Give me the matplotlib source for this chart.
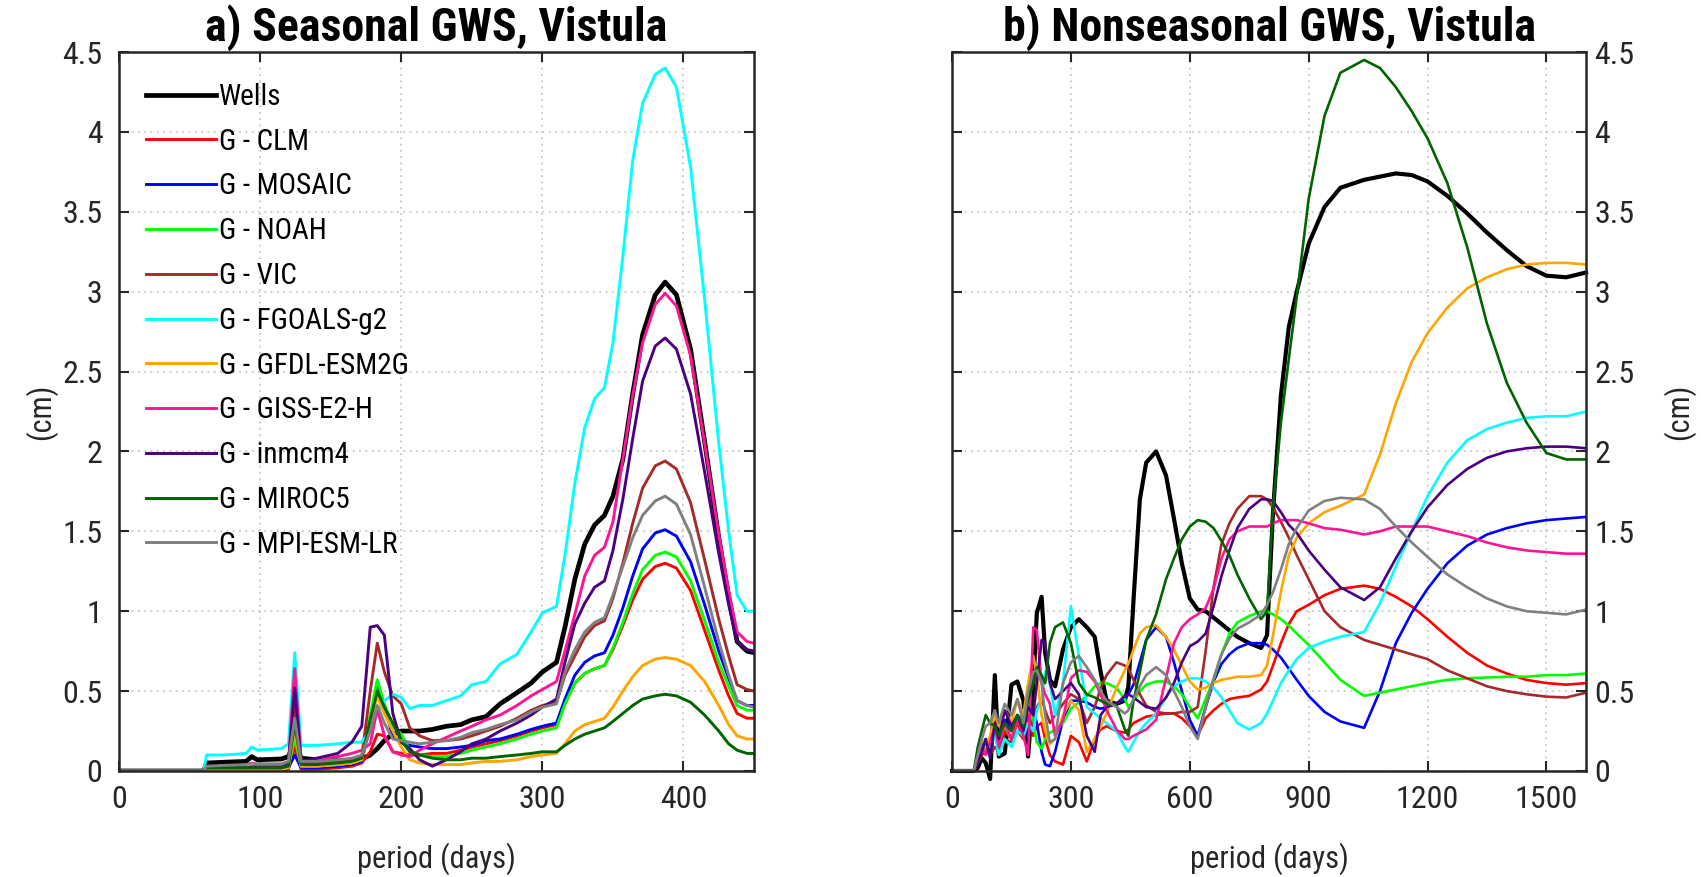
import matplotlib
matplotlib.use('Agg')
import matplotlib.pyplot as plt

# condensed sans first (MATLAB-like look), plain fallbacks after it
plt.rcParams['font.family'] = ['Roboto Condensed', 'Archivo Narrow', 'Liberation Sans', 'DejaVu Sans']

# series names and colours (legend order)
names = ['Wells', 'G - CLM', 'G - MOSAIC', 'G - NOAH', 'G - VIC', 'G - FGOALS-g2',
         'G - GFDL-ESM2G', 'G - GISS-E2-H', 'G - inmcm4', 'G - MIROC5', 'G - MPI-ESM-LR']
colors = ['#000000', '#ff0000', '#0000ff', '#00ff00', '#a52a2a', '#00ffff',
          '#ffa500', '#ff1493', '#4b0082', '#006400', '#808080']

# ---- panel a: seasonal GWS ----
period_a = [0, 60, 62, 75, 90, 94, 98, 115, 120, 124.5, 129, 140, 155, 165, 172,
            178, 183, 188, 194, 200, 206, 213, 222, 232, 242, 250, 260, 270, 282, 292,
            300, 310, 316, 323, 330, 337, 344, 350, 357, 364, 371, 380, 387, 395, 405,
            415, 425, 432, 438, 445, 450]

a_wells = [0, 0, 0.05, 0.055, 0.06, 0.09, 0.07, 0.075, 0.09, 0.18, 0.08, 0.07, 0.065, 0.065, 0.075,
           0.10, 0.14, 0.19, 0.23, 0.25, 0.25, 0.25, 0.26, 0.28, 0.29, 0.32, 0.34, 0.42, 0.49, 0.55,
           0.62, 0.68, 0.90, 1.20, 1.42, 1.54, 1.60, 1.72, 1.95, 2.36, 2.73, 2.98, 3.06, 2.98, 2.64,
           2.06, 1.46, 1.09, 0.81, 0.75, 0.74]
a_clm = [0, 0, 0.005, 0.005, 0.005, 0.005, 0.005, 0.005, 0.01, 0.15, 0.01, 0.01, 0.02, 0.03, 0.05,
         0.12, 0.23, 0.22, 0.12, 0.11, 0.10, 0.10, 0.11, 0.11, 0.13, 0.15, 0.17, 0.19, 0.22, 0.25,
         0.27, 0.29, 0.42, 0.55, 0.61, 0.64, 0.66, 0.76, 0.91, 1.07, 1.20, 1.28, 1.30, 1.27, 1.13,
         0.88, 0.63, 0.47, 0.36, 0.33, 0.33]
a_mosaic = [0, 0, 0.01, 0.01, 0.01, 0.01, 0.01, 0.01, 0.02, 0.10, 0.02, 0.02, 0.03, 0.04, 0.06,
            0.30, 0.56, 0.40, 0.22, 0.18, 0.16, 0.15, 0.14, 0.14, 0.15, 0.16, 0.19, 0.20, 0.23, 0.26,
            0.28, 0.30, 0.45, 0.60, 0.68, 0.72, 0.74, 0.85, 1.02, 1.22, 1.39, 1.49, 1.51, 1.47, 1.31,
            1.04, 0.75, 0.58, 0.44, 0.41, 0.41]
a_noah = [0, 0, 0.02, 0.02, 0.02, 0.02, 0.02, 0.02, 0.03, 0.20, 0.03, 0.03, 0.04, 0.05, 0.07,
          0.35, 0.57, 0.42, 0.28, 0.23, 0.13, 0.10, 0.09, 0.09, 0.11, 0.13, 0.15, 0.17, 0.20, 0.23,
          0.25, 0.27, 0.42, 0.55, 0.61, 0.64, 0.66, 0.77, 0.93, 1.11, 1.26, 1.35, 1.37, 1.34, 1.19,
          0.94, 0.68, 0.53, 0.41, 0.38, 0.38]
a_vic = [0, 0, 0.01, 0.01, 0.01, 0.02, 0.02, 0.02, 0.04, 0.42, 0.05, 0.05, 0.06, 0.07, 0.09,
         0.50, 0.80, 0.62, 0.47, 0.42, 0.27, 0.22, 0.19, 0.19, 0.20, 0.22, 0.25, 0.28, 0.33, 0.38,
         0.41, 0.43, 0.60, 0.72, 0.84, 0.91, 0.94, 1.08, 1.30, 1.55, 1.77, 1.91, 1.94, 1.89, 1.68,
         1.32, 0.95, 0.72, 0.54, 0.51, 0.50]
a_fgoals = [0, 0, 0.10, 0.10, 0.11, 0.15, 0.13, 0.14, 0.17, 0.74, 0.16, 0.16, 0.17, 0.18, 0.18,
            0.25, 0.37, 0.44, 0.48, 0.46, 0.39, 0.41, 0.41, 0.44, 0.47, 0.54, 0.56, 0.67, 0.73, 0.87,
            0.99, 1.03, 1.35, 1.80, 2.15, 2.33, 2.40, 2.68, 3.22, 3.82, 4.18, 4.36, 4.40, 4.28, 3.78,
            2.95, 2.05, 1.50, 1.10, 1.00, 1.00]
a_gfdl = [0, 0, 0.01, 0.01, 0.01, 0.01, 0.01, 0.01, 0.02, 0.25, 0.03, 0.03, 0.04, 0.05, 0.07,
          0.30, 0.47, 0.36, 0.25, 0.15, 0.07, 0.05, 0.04, 0.04, 0.04, 0.05, 0.06, 0.06, 0.07, 0.09,
          0.10, 0.11, 0.17, 0.25, 0.29, 0.31, 0.33, 0.40, 0.50, 0.59, 0.66, 0.70, 0.71, 0.70, 0.66,
          0.56, 0.41, 0.29, 0.22, 0.20, 0.20]
a_giss = [0, 0, 0.02, 0.02, 0.02, 0.03, 0.03, 0.03, 0.05, 0.64, 0.06, 0.07, 0.09, 0.11, 0.13,
          0.17, 0.39, 0.22, 0.12, 0.10, 0.09, 0.13, 0.17, 0.21, 0.25, 0.28, 0.32, 0.35, 0.41, 0.47,
          0.51, 0.56, 0.75, 0.98, 1.22, 1.35, 1.40, 1.56, 1.95, 2.35, 2.68, 2.92, 2.99, 2.91, 2.60,
          2.05, 1.48, 1.13, 0.87, 0.81, 0.80]
a_inm = [0, 0, 0.02, 0.02, 0.02, 0.02, 0.02, 0.02, 0.04, 0.52, 0.06, 0.08, 0.11, 0.18, 0.28,
         0.90, 0.91, 0.85, 0.36, 0.18, 0.14, 0.07, 0.03, 0.07, 0.12, 0.17, 0.20, 0.25, 0.30, 0.35,
         0.40, 0.45, 0.68, 0.92, 1.05, 1.15, 1.19, 1.38, 1.70, 2.08, 2.44, 2.66, 2.71, 2.64, 2.36,
         1.87, 1.36, 1.04, 0.81, 0.76, 0.75]
a_miroc = [0, 0, 0.02, 0.02, 0.02, 0.02, 0.02, 0.02, 0.03, 0.30, 0.04, 0.04, 0.05, 0.06, 0.08,
           0.32, 0.50, 0.40, 0.30, 0.19, 0.12, 0.10, 0.08, 0.07, 0.07, 0.08, 0.08, 0.09, 0.10, 0.11,
           0.12, 0.12, 0.16, 0.20, 0.23, 0.25, 0.27, 0.31, 0.36, 0.41, 0.45, 0.47, 0.48, 0.47, 0.43,
           0.35, 0.25, 0.17, 0.13, 0.11, 0.11]
a_mpi = [0, 0, 0.03, 0.035, 0.04, 0.05, 0.045, 0.045, 0.06, 0.33, 0.06, 0.06, 0.07, 0.08, 0.10,
         0.25, 0.41, 0.30, 0.20, 0.19, 0.18, 0.17, 0.18, 0.19, 0.21, 0.24, 0.26, 0.29, 0.32, 0.37,
         0.40, 0.42, 0.62, 0.76, 0.87, 0.93, 0.96, 1.10, 1.28, 1.46, 1.60, 1.69, 1.72, 1.67, 1.48,
         1.15, 0.81, 0.60, 0.44, 0.41, 0.40]

# ---- panel b: nonseasonal GWS ----
period_b = [0, 55, 65, 75, 85, 96, 108, 118, 133, 150, 165, 180, 192, 205, 214,
            226, 235, 247, 260, 280, 300, 320, 340, 360, 375, 390, 415, 436, 445, 458,
            474, 490, 515, 540, 560, 580, 600, 620, 640, 660, 680, 700, 720, 750, 780,
            795, 810, 830, 850, 870, 900, 940, 980, 1040, 1080, 1120, 1160, 1200, 1250, 1300,
            1350, 1400, 1450, 1500, 1550, 1600]

b_wells = [0, 0, 0.02, 0.08, 0.05, -0.05, 0.60, 0.09, 0.11, 0.54, 0.56, 0.44, 0.09, 0.53, 0.99,
           1.09, 0.74, 0.57, 0.53, 0.76, 0.90, 0.95, 0.90, 0.84, 0.62, 0.44, 0.42, 0.44, 0.53, 1.07,
           1.70, 1.93, 2.00, 1.85, 1.58, 1.30, 1.08, 1.01, 1.00, 0.96, 0.92, 0.88, 0.84, 0.80, 0.77,
           0.85, 1.62, 2.35, 2.78, 3.00, 3.30, 3.53, 3.65, 3.70, 3.72, 3.74, 3.73, 3.69, 3.60, 3.49,
           3.37, 3.26, 3.16, 3.10, 3.09, 3.12]
b_clm = [0, 0, 0.05, 0.10, 0.15, 0.10, 0.30, 0.15, 0.25, 0.20, 0.30, 0.20, 0.35, 0.22, 0.28,
         0.30, 0.20, 0.10, 0.06, 0.04, 0.22, 0.18, 0.06, 0.20, 0.26, 0.28, 0.25, 0.24, 0.26, 0.30,
         0.32, 0.34, 0.35, 0.36, 0.36, 0.33, 0.28, 0.22, 0.33, 0.38, 0.42, 0.45, 0.46, 0.47, 0.51,
         0.56, 0.66, 0.80, 0.92, 1.00, 1.04, 1.10, 1.14, 1.16, 1.14, 1.09, 1.03, 0.95, 0.84, 0.74,
         0.66, 0.61, 0.57, 0.55, 0.54, 0.55]
b_mosaic = [0, 0, 0.10, 0.15, 0.20, 0.12, 0.30, 0.20, 0.32, 0.25, 0.35, 0.30, 0.22, 0.38, 0.30,
            0.12, 0.04, 0.03, 0.12, 0.32, 0.44, 0.44, 0.43, 0.40, 0.39, 0.40, 0.42, 0.45, 0.48, 0.54,
            0.68, 0.82, 0.90, 0.84, 0.68, 0.50, 0.32, 0.22, 0.40, 0.56, 0.67, 0.73, 0.77, 0.80, 0.80,
            0.79, 0.76, 0.71, 0.64, 0.57, 0.47, 0.37, 0.31, 0.27, 0.50, 0.80, 0.99, 1.14, 1.30, 1.41,
            1.48, 1.52, 1.55, 1.57, 1.58, 1.59]
b_noah = [0, 0, 0.10, 0.15, 0.12, 0.20, 0.25, 0.18, 0.28, 0.20, 0.32, 0.25, 0.42, 0.30, 0.18,
          0.14, 0.20, 0.24, 0.26, 0.30, 0.39, 0.43, 0.47, 0.53, 0.55, 0.55, 0.52, 0.45, 0.40, 0.44,
          0.50, 0.54, 0.56, 0.56, 0.53, 0.48, 0.40, 0.33, 0.45, 0.57, 0.73, 0.86, 0.93, 0.97, 1.00,
          1.00, 0.98, 0.95, 0.91, 0.86, 0.79, 0.68, 0.57, 0.47, 0.49, 0.51, 0.53, 0.55, 0.57, 0.58,
          0.585, 0.59, 0.59, 0.60, 0.60, 0.61]
b_vic = [0, 0, 0.05, 0.10, 0.12, 0.10, 0.15, 0.12, 0.20, 0.18, 0.25, 0.20, 0.32, 0.28, 0.40,
         0.45, 0.38, 0.30, 0.35, 0.42, 0.48, 0.45, 0.30, 0.40, 0.52, 0.60, 0.68, 0.66, 0.64, 0.57,
         0.48, 0.41, 0.37, 0.36, 0.36, 0.37, 0.37, 0.40, 0.75, 1.15, 1.42, 1.55, 1.64, 1.72, 1.72,
         1.70, 1.65, 1.56, 1.46, 1.35, 1.20, 1.00, 0.90, 0.82, 0.79, 0.76, 0.73, 0.70, 0.63, 0.58,
         0.53, 0.50, 0.48, 0.465, 0.46, 0.49]
b_fgoals = [0, 0, 0.08, 0.12, 0.20, 0.15, 0.22, 0.10, 0.20, 0.15, 0.25, 0.22, 0.30, 0.25, 0.38,
            0.45, 0.62, 0.55, 0.35, 0.55, 1.03, 0.72, 0.40, 0.36, 0.33, 0.30, 0.25, 0.15, 0.12, 0.18,
            0.25, 0.30, 0.36, 0.46, 0.53, 0.56, 0.58, 0.58, 0.56, 0.52, 0.46, 0.38, 0.30, 0.26, 0.30,
            0.36, 0.44, 0.55, 0.63, 0.70, 0.77, 0.81, 0.84, 0.87, 1.05, 1.28, 1.50, 1.72, 1.93, 2.07,
            2.14, 2.18, 2.21, 2.22, 2.22, 2.25]
b_gfdl = [0, 0, 0.10, 0.20, 0.15, 0.22, 0.35, 0.28, 0.38, 0.30, 0.45, 0.35, 0.55, 0.72, 0.60,
          0.35, 0.25, 0.17, 0.20, 0.35, 0.44, 0.38, 0.12, 0.20, 0.28, 0.36, 0.52, 0.63, 0.67, 0.76,
          0.86, 0.90, 0.91, 0.84, 0.76, 0.66, 0.56, 0.51, 0.52, 0.55, 0.57, 0.58, 0.59, 0.59, 0.60,
          0.66, 0.85, 1.12, 1.35, 1.46, 1.55, 1.62, 1.66, 1.73, 1.98, 2.30, 2.56, 2.74, 2.90, 3.02,
          3.09, 3.14, 3.17, 3.18, 3.18, 3.17]
b_giss = [0, 0, 0.08, 0.15, 0.10, 0.18, 0.28, 0.15, 0.30, 0.20, 0.32, 0.22, 0.10, 0.90, 0.88,
          0.55, 0.48, 0.42, 0.22, 0.32, 0.58, 0.63, 0.62, 0.56, 0.48, 0.38, 0.26, 0.20, 0.20, 0.22,
          0.24, 0.26, 0.32, 0.58, 0.80, 0.90, 0.95, 0.98, 1.02, 1.14, 1.33, 1.45, 1.50, 1.53, 1.53,
          1.53, 1.55, 1.57, 1.57, 1.57, 1.55, 1.52, 1.51, 1.48, 1.50, 1.53, 1.53, 1.53, 1.50, 1.47,
          1.43, 1.40, 1.38, 1.37, 1.36, 1.36]
b_inm = [0, 0, 0.05, 0.12, 0.20, 0.08, 0.30, 0.20, 0.38, 0.28, 0.35, 0.25, 0.40, 0.35, 0.55,
         0.82, 0.80, 0.55, 0.45, 0.50, 0.55, 0.48, 0.22, 0.12, 0.35, 0.40, 0.42, 0.47, 0.48, 0.46,
         0.43, 0.40, 0.39, 0.46, 0.55, 0.68, 0.78, 0.81, 0.86, 1.03, 1.22, 1.38, 1.52, 1.64, 1.70,
         1.70, 1.69, 1.62, 1.54, 1.49, 1.38, 1.26, 1.15, 1.07, 1.15, 1.33, 1.50, 1.65, 1.79, 1.89,
         1.96, 2.00, 2.02, 2.03, 2.03, 2.02]
b_miroc = [0, 0, 0.15, 0.25, 0.35, 0.30, 0.28, 0.22, 0.30, 0.25, 0.35, 0.28, 0.45, 0.55, 0.65,
           0.60, 0.55, 0.80, 0.90, 0.93, 0.80, 0.55, 0.48, 0.46, 0.44, 0.42, 0.41, 0.26, 0.22, 0.44,
           0.62, 0.82, 0.98, 1.20, 1.33, 1.45, 1.53, 1.57, 1.56, 1.52, 1.44, 1.35, 1.23, 1.08, 0.95,
           1.00, 1.65, 2.18, 2.58, 2.97, 3.58, 4.10, 4.37, 4.45, 4.40, 4.28, 4.13, 3.96, 3.68, 3.28,
           2.80, 2.43, 2.18, 1.99, 1.95, 1.95]
b_mpi = [0, 0, 0.10, 0.20, 0.28, 0.30, 0.38, 0.30, 0.42, 0.35, 0.45, 0.30, 0.50, 0.62, 0.63,
         0.55, 0.35, 0.18, 0.20, 0.55, 0.68, 0.72, 0.65, 0.57, 0.50, 0.44, 0.40, 0.36, 0.38, 0.45,
         0.53, 0.60, 0.65, 0.60, 0.50, 0.40, 0.28, 0.20, 0.40, 0.58, 0.73, 0.83, 0.89, 0.93, 0.98,
         1.04, 1.12, 1.26, 1.42, 1.52, 1.63, 1.69, 1.71, 1.70, 1.64, 1.53, 1.43, 1.34, 1.23, 1.15,
         1.08, 1.03, 1.00, 0.99, 0.98, 1.01]

series_a = [a_wells, a_clm, a_mosaic, a_noah, a_vic, a_fgoals, a_gfdl, a_giss, a_inm, a_miroc, a_mpi]
series_b = [b_wells, b_clm, b_mosaic, b_noah, b_vic, b_fgoals, b_gfdl, b_giss, b_inm, b_miroc, b_mpi]

y_ticks = [0, 0.5, 1, 1.5, 2, 2.5, 3, 3.5, 4, 4.5]
y_ticklabels = ['0', '0.5', '1', '1.5', '2', '2.5', '3', '3.5', '4', '4.5']
dark = '#262626'

fig = plt.figure(figsize=(17.01, 8.77), dpi=100)
ax1 = fig.add_axes([0.0700, 0.1209, 0.3733, 0.8198])
ax2 = fig.add_axes([0.5597, 0.1209, 0.3727, 0.8198])

for i, (ya, yb) in enumerate(zip(series_a, series_b)):
    lw_a = 3.4 if i == 0 else 2.1
    lw_b = 3.0 if i == 0 else 1.9
    ax1.plot(period_a, ya, color=colors[i], lw=lw_a, label=names[i])
    ln, = ax2.plot(period_b, yb, color=colors[i], lw=lw_b)
    if i == 0:
        ln.set_clip_on(False)   # the wells curve dips just under zero near day 96

for ax in (ax1, ax2):
    ax.set_ylim(0, 4.5)
    ax.set_yticks(y_ticks)
    ax.set_yticklabels(y_ticklabels)
    ax.set_axisbelow(True)
    ax.grid(True, linestyle=(0, (1, 2.5)), color='#c8c8c8', linewidth=1.3)
    ax.tick_params(direction='in', top=True, right=True, left=True, bottom=True,
                   length=7, width=1.5, labelsize=23, colors=dark)
    ax.tick_params(axis='x', pad=10)
    for sp in ax.spines.values():
        sp.set_linewidth(1.8)
        sp.set_color(dark)
    ax.set_xlabel('period (days)', fontsize=22, color=dark)

ax1.tick_params(axis='y', pad=12)
ax2.tick_params(axis='y', pad=6)

ax1.set_xlim(0, 450)
ax1.set_xticks([0, 100, 200, 300, 400])
ax2.set_xlim(0, 1600)
ax2.set_xticks([0, 300, 600, 900, 1200, 1500])
ax2.tick_params(labelleft=False, labelright=True)

ax1.set_ylabel('(cm)', fontsize=22, color=dark)
ax2.yaxis.set_label_position('right')
ax2.set_ylabel('(cm)', fontsize=22, color=dark, rotation=90)

ax1.xaxis.set_label_coords(0.5, -0.10)
ax2.xaxis.set_label_coords(0.5, -0.10)
ax1.yaxis.set_label_coords(-0.098, 0.5)
ax2.yaxis.set_label_coords(1.12, 0.5)

ax1.set_title('a) Seasonal GWS, Vistula', fontsize=33, fontweight='bold', pad=8)
ax2.set_title('b) Nonseasonal GWS, Vistula', fontsize=33, fontweight='bold', pad=8)

ax1.legend(loc='upper left', bbox_to_anchor=(0.043, 0.957), frameon=False,
           borderpad=0, borderaxespad=0, handlelength=2.38, handletextpad=0.1,
           labelspacing=0.575, fontsize=21)

fig.savefig('out.png', dpi=100)
